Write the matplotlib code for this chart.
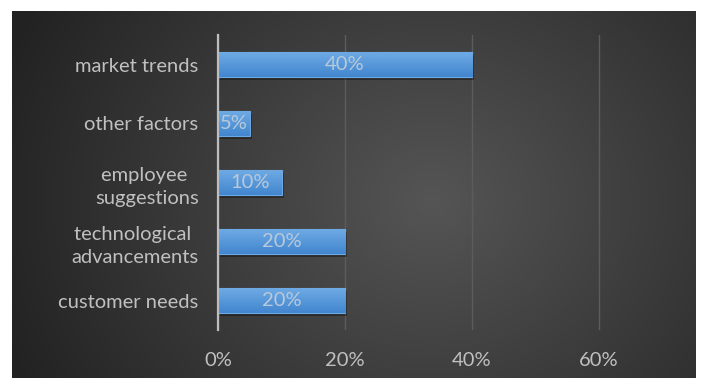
import numpy as np
import matplotlib
matplotlib.use("Agg")
import matplotlib.pyplot as plt
import matplotlib.transforms as mtransforms

categories = ["customer needs", "technological \nadvancements", "employee \nsuggestions",
              "other factors", "market trends"]
shares = [0.20, 0.20, 0.10, 0.05, 0.40]
xticks = [0, 0.2, 0.4, 0.6]
xtick_labels = ["0%", "20%", "40%", "60%"]

plt.rcParams['font.family'] = ['Lato', 'DejaVu Sans']

fig = plt.figure(figsize=(7.02, 3.78), dpi=100)
fig.patch.set_facecolor("white")

# dark radial backdrop of the chart area
bg = fig.add_axes([12/702, 0, 684/702, 367/378])
bg.set_axis_off()
h, w = 367, 684
yy, xx = np.mgrid[0:h, 0:w]
cx, cy = 420, 190
r = np.sqrt(((xx - cx) / 1.15) ** 2 + (yy - cy) ** 2)
t = np.clip(r / 400, 0, 1)
lo, hi = np.array([0x22, 0x22, 0x22]) / 255, np.array([0x55, 0x55, 0x55]) / 255
img = hi[None, None, :] * (1 - t[..., None]) + lo[None, None, :] * t[..., None]
bg.imshow(img, aspect="auto", extent=(0, 1, 0, 1), origin="upper")
bg.set_xlim(0, 1)
bg.set_ylim(0, 1)

ax = fig.add_axes([218/702, 1 - 330/378, (662.5 - 218)/702, 295/378])
ax.patch.set_alpha(0)

ax.set_xticks(xticks)
ax.set_xticklabels(xtick_labels)
ax.grid(axis="x", color="#5c5c5c", linewidth=1)
ax.set_axisbelow(True)
for s in ["top", "right", "bottom"]:
    ax.spines[s].set_visible(False)
ax.spines["left"].set_color("#bdbdbd")
ax.spines["left"].set_linewidth(1.6)
ax.spines["left"].set_zorder(5)

y = np.arange(len(categories))
bar_h = 0.42

# shadow under the bars
shadow = mtransforms.offset_copy(ax.transData, fig=fig, x=2, y=-3, units="dots")
ax.barh(y, shares, height=bar_h, color="black", alpha=0.35, transform=shadow, zorder=2)

bars = ax.barh(y, shares, height=bar_h, color="#4f90d6", edgecolor="#6fa9e3",
               linewidth=0.8, zorder=3)
grad = np.linspace(0, 1, 50)[:, None]
top_c = np.array([0x6e, 0xaa, 0xe4]) / 255
bot_c = np.array([0x42, 0x86, 0xcf]) / 255
gimg = top_c[None, None, :] * (1 - grad[..., None]) + bot_c[None, None, :] * grad[..., None]
for b, yi, v in zip(bars, y, shares):
    im = ax.imshow(gimg, aspect="auto", extent=(0, v, yi - bar_h/2, yi + bar_h/2),
                   origin="upper", zorder=3.5)
    im.set_clip_path(b)
    ax.text(v / 2, yi, f"{v:.0%}", ha="center", va="center", fontsize=14.5,
            color="#b9c9da", zorder=4)

ax.set_xlim(0, 0.7)
ax.set_ylim(-0.5, len(categories) - 0.5)
ax.set_yticks(y)
ax.set_yticklabels(categories, multialignment="center", linespacing=1.45)
ax.tick_params(axis="both", length=0, labelsize=14.5, colors="#c0c0c0")
ax.tick_params(axis="y", pad=14)
ax.tick_params(axis="x", pad=16)

fig.savefig("out.png", dpi=100, facecolor=fig.get_facecolor())
